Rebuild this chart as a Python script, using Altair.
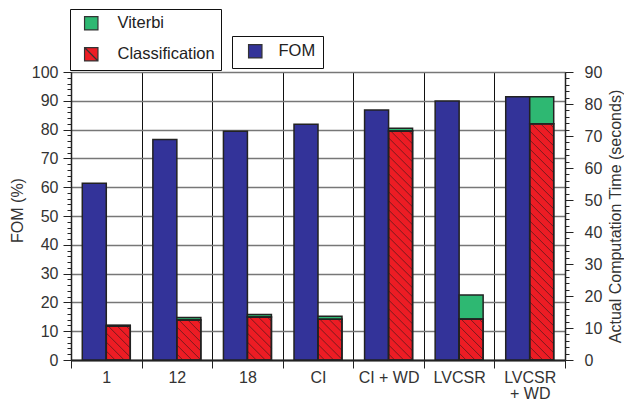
import altair as alt
import pandas as pd

categories = ["1", "12", "18", "CI", "CI + WD", "LVCSR", "LVCSR + WD"]
fom = [61.4, 76.6, 79.4, 81.9, 86.8, 89.9, 91.4]
classification = [10.6, 12.5, 13.4, 12.7, 71.6, 12.8, 73.8]
viterbi = [0.3, 0.8, 0.8, 1.0, 0.8, 7.5, 8.5]

W, H = 494, 288
N = len(categories)
X_PX = W / N
Y_PX = H / 90.0
FONT = "Liberation Sans"

BLUE = "#333399"
RED = "#ed1c24"
GREEN = "#2eb872"
EDGE = "#222222"
TEXT = "#333333"

# ---- tables built from the arrays ----
fom_df = pd.DataFrame({
    "i": list(range(N)),
    "cat": categories,
    "fom": fom,
    "series": ["FOM"] * N,
})
fom_df["base"] = 0.0
fom_df["x0"] = fom_df["i"] + 0.16
fom_df["x1"] = fom_df["i"] + 0.5

time_rows = []
for i, (c, v) in enumerate(zip(classification, viterbi)):
    time_rows.append(dict(i=i, cat=categories[i], series="Classification", y0=0.0, y1=c, x0=i + 0.5, x1=i + 0.84))
    time_rows.append(dict(i=i, cat=categories[i], series="Viterbi", y0=c, y1=c + v, x0=i + 0.5, x1=i + 0.84))
time_df = pd.DataFrame(time_rows)

# hatch lines (decoration) derived from the classification bars
hatch_rows = []
bw = 0.34 * X_PX
step = 9.0
for i, c in enumerate(classification):
    h = c * Y_PX
    cc = -bw + 4.0
    while cc < h:
        u0 = max(0.0, -cc)
        u1 = min(bw, h - cc)
        if u1 > u0 + 0.5:
            hatch_rows.append(dict(
                xa=i + 0.5 + u0 / X_PX, xb=i + 0.5 + u1 / X_PX,
                ya=c - (u0 + cc) / Y_PX, yb=c - (u1 + cc) / Y_PX))
        cc += step
hatch_df = pd.DataFrame(hatch_rows)


# label expression for the x axis (nested conditionals)
def label_literal(c):
    if len(c) > 8 and " + " in c:
        a, b = c.split(" + ", 1)
        return "['%s', '+ %s']" % (a, b)
    return "'%s'" % c


expr = "''"
for k in range(N - 1, -1, -1):
    expr = "(floor(datum.value) === %d ? %s : %s)" % (k, label_literal(categories[k]), expr)
label_expr = "datum.value % 1 === 0 ? '' : " + expr

x_scale = alt.Scale(domain=[0, N], nice=False, zero=False)


def make_x_axis():
    return alt.Axis(
        values=[k / 2 for k in range(2 * N + 1)],
        labelExpr=label_expr,
        tickSize=8,
        tickColor=EDGE,
        tickWidth=1,
        tickOpacity={"condition": {"test": "datum.value % 1 === 0", "value": 1}, "value": 0},
        grid=True,
        gridColor="#111111",
        gridWidth=1,
        gridOpacity={"condition": {"test": "datum.value % 1 === 0", "value": 1}, "value": 0},
        domainColor=EDGE,
        domainWidth=2,
        labelFont=FONT,
        labelFontSize=16,
        labelColor=TEXT,
        labelPadding=1,
        labelLineHeight=16,
        labelOverlap=False,
        labelFlush=False,
        labelBound=False,
        title=None,
    )


y_left_axis = alt.Axis(
    values=list(range(0, 101, 2)),
    labelExpr="datum.value % 10 === 0 ? datum.label : ''",
    tickSize={"condition": {"test": "datum.value % 10 === 0", "value": 8}, "value": 4},
    tickColor=EDGE,
    tickWidth=1,
    grid=True,
    gridColor="#777777",
    gridWidth=1.5,
    gridOpacity={"condition": {"test": "datum.value % 10 === 0", "value": 1}, "value": 0},
    domainColor=EDGE,
    domainWidth=1.5,
    labelFont=FONT,
    labelFontSize=16,
    labelColor=TEXT,
    labelPadding=5,
    labelOverlap=False,
    title="FOM (%)",
    titleFont=FONT,
    titleFontSize=16,
    titleFontWeight="normal",
    titleColor=TEXT,
    titleAngle=270,
    titleX=-54,
    titleY=138,
    titleAlign="center",
    titleBaseline="middle",
)


def make_right_axis():
    return alt.Axis(
        orient="right",
        values=list(range(0, 91, 2)),
        labelExpr="datum.value % 10 === 0 ? datum.label : ''",
        tickSize={"condition": {"test": "datum.value % 10 === 0", "value": 8}, "value": 4},
        tickColor=EDGE,
        tickWidth=1,
        grid=False,
        domainColor=EDGE,
        domainWidth=1.5,
        labelFont=FONT,
        labelFontSize=16,
        labelColor=TEXT,
        labelPadding=11,
        labelOverlap=False,
        title="Actual Computation Time (seconds)",
        titleFont=FONT,
        titleFontSize=16,
        titleFontWeight="normal",
        titleColor=TEXT,
        titleAngle=270,
        titleX=50,
        titleY=144,
        titleAlign="center",
        titleBaseline="middle",
    )


def legend_props(pad, sym_off, label_off):
    return dict(
        orient="none",
        title=None,
        direction="vertical",
        fillColor="white",
        strokeColor="#111111",
        padding=pad,
        symbolOffset=sym_off,
        symbolSize=180,
        symbolStrokeColor="#333333",
        symbolStrokeWidth=1.2,
        labelFont=FONT,
        labelFontSize=16.5,
        labelColor="#222222",
        labelOffset=label_off,
        rowPadding=12,
    )


y_time_scale = alt.Scale(domain=[0, 90], nice=False)

fom_bars = alt.Chart(fom_df).mark_bar(stroke=EDGE, strokeWidth=1.5).encode(
    x=alt.X("x0:Q", scale=x_scale, axis=make_x_axis()),
    x2="x1:Q",
    y=alt.Y("fom:Q", scale=alt.Scale(domain=[0, 100], nice=False), axis=y_left_axis),
    y2="base:Q",
    color=alt.Color("series:N", scale=alt.Scale(domain=["FOM"], range=[BLUE]),
                    legend=alt.Legend(legendX=161, legendY=-36, symbolType="square",
                                      **legend_props(7, 8, 15))),
)

time_bars = alt.Chart(time_df).mark_bar(stroke=EDGE, strokeWidth=1.5).encode(
    x=alt.X("x0:Q", scale=x_scale, axis=make_x_axis()),
    x2="x1:Q",
    y=alt.Y("y1:Q", scale=y_time_scale, axis=make_right_axis()),
    y2="y0:Q",
    color=alt.Color("series:N",
                    scale=alt.Scale(domain=["Viterbi", "Classification"], range=[GREEN, RED]),
                    sort=["Viterbi", "Classification"],
                    legend=alt.Legend(
                        legendX=-1, legendY=-63,
                        symbolType={"expr": "datum.value === 'Classification' ? 'M-1,-1H1V1H-1Z M-1,-1L1,1' : 'square'"},
                        **legend_props(6, 7, 18))),
)

hatch = alt.Chart(hatch_df).mark_rule(color="#2a1a1a", strokeWidth=0.7, opacity=0.85).encode(
    x=alt.X("xa:Q", scale=x_scale, axis=make_x_axis()),
    x2="xb:Q",
    y=alt.Y("ya:Q", scale=y_time_scale, axis=make_right_axis()),
    y2="yb:Q",
)

# re-draw outlines of classification bars over hatch
class_outline = alt.Chart(time_df).transform_filter(
    alt.datum.series == "Classification"
).mark_bar(fillOpacity=0, stroke=EDGE, strokeWidth=1.5).encode(
    x=alt.X("x0:Q", scale=x_scale, axis=make_x_axis()),
    x2="x1:Q",
    y=alt.Y("y1:Q", scale=y_time_scale, axis=make_right_axis()),
    y2="y0:Q",
)

time_layer = alt.layer(time_bars, hatch, class_outline)

chart = alt.layer(fom_bars, time_layer).resolve_scale(
    y="independent", color="independent"
).properties(
    width=W,
    height=H,
    autosize=alt.AutoSizeParams(type="none"),
    padding={"left": 63, "top": 64, "right": 59, "bottom": 41},
).configure_view(stroke=None).configure(background="white")

chart.save("out.html", embed_options={"renderer": "svg", "actions": False})
